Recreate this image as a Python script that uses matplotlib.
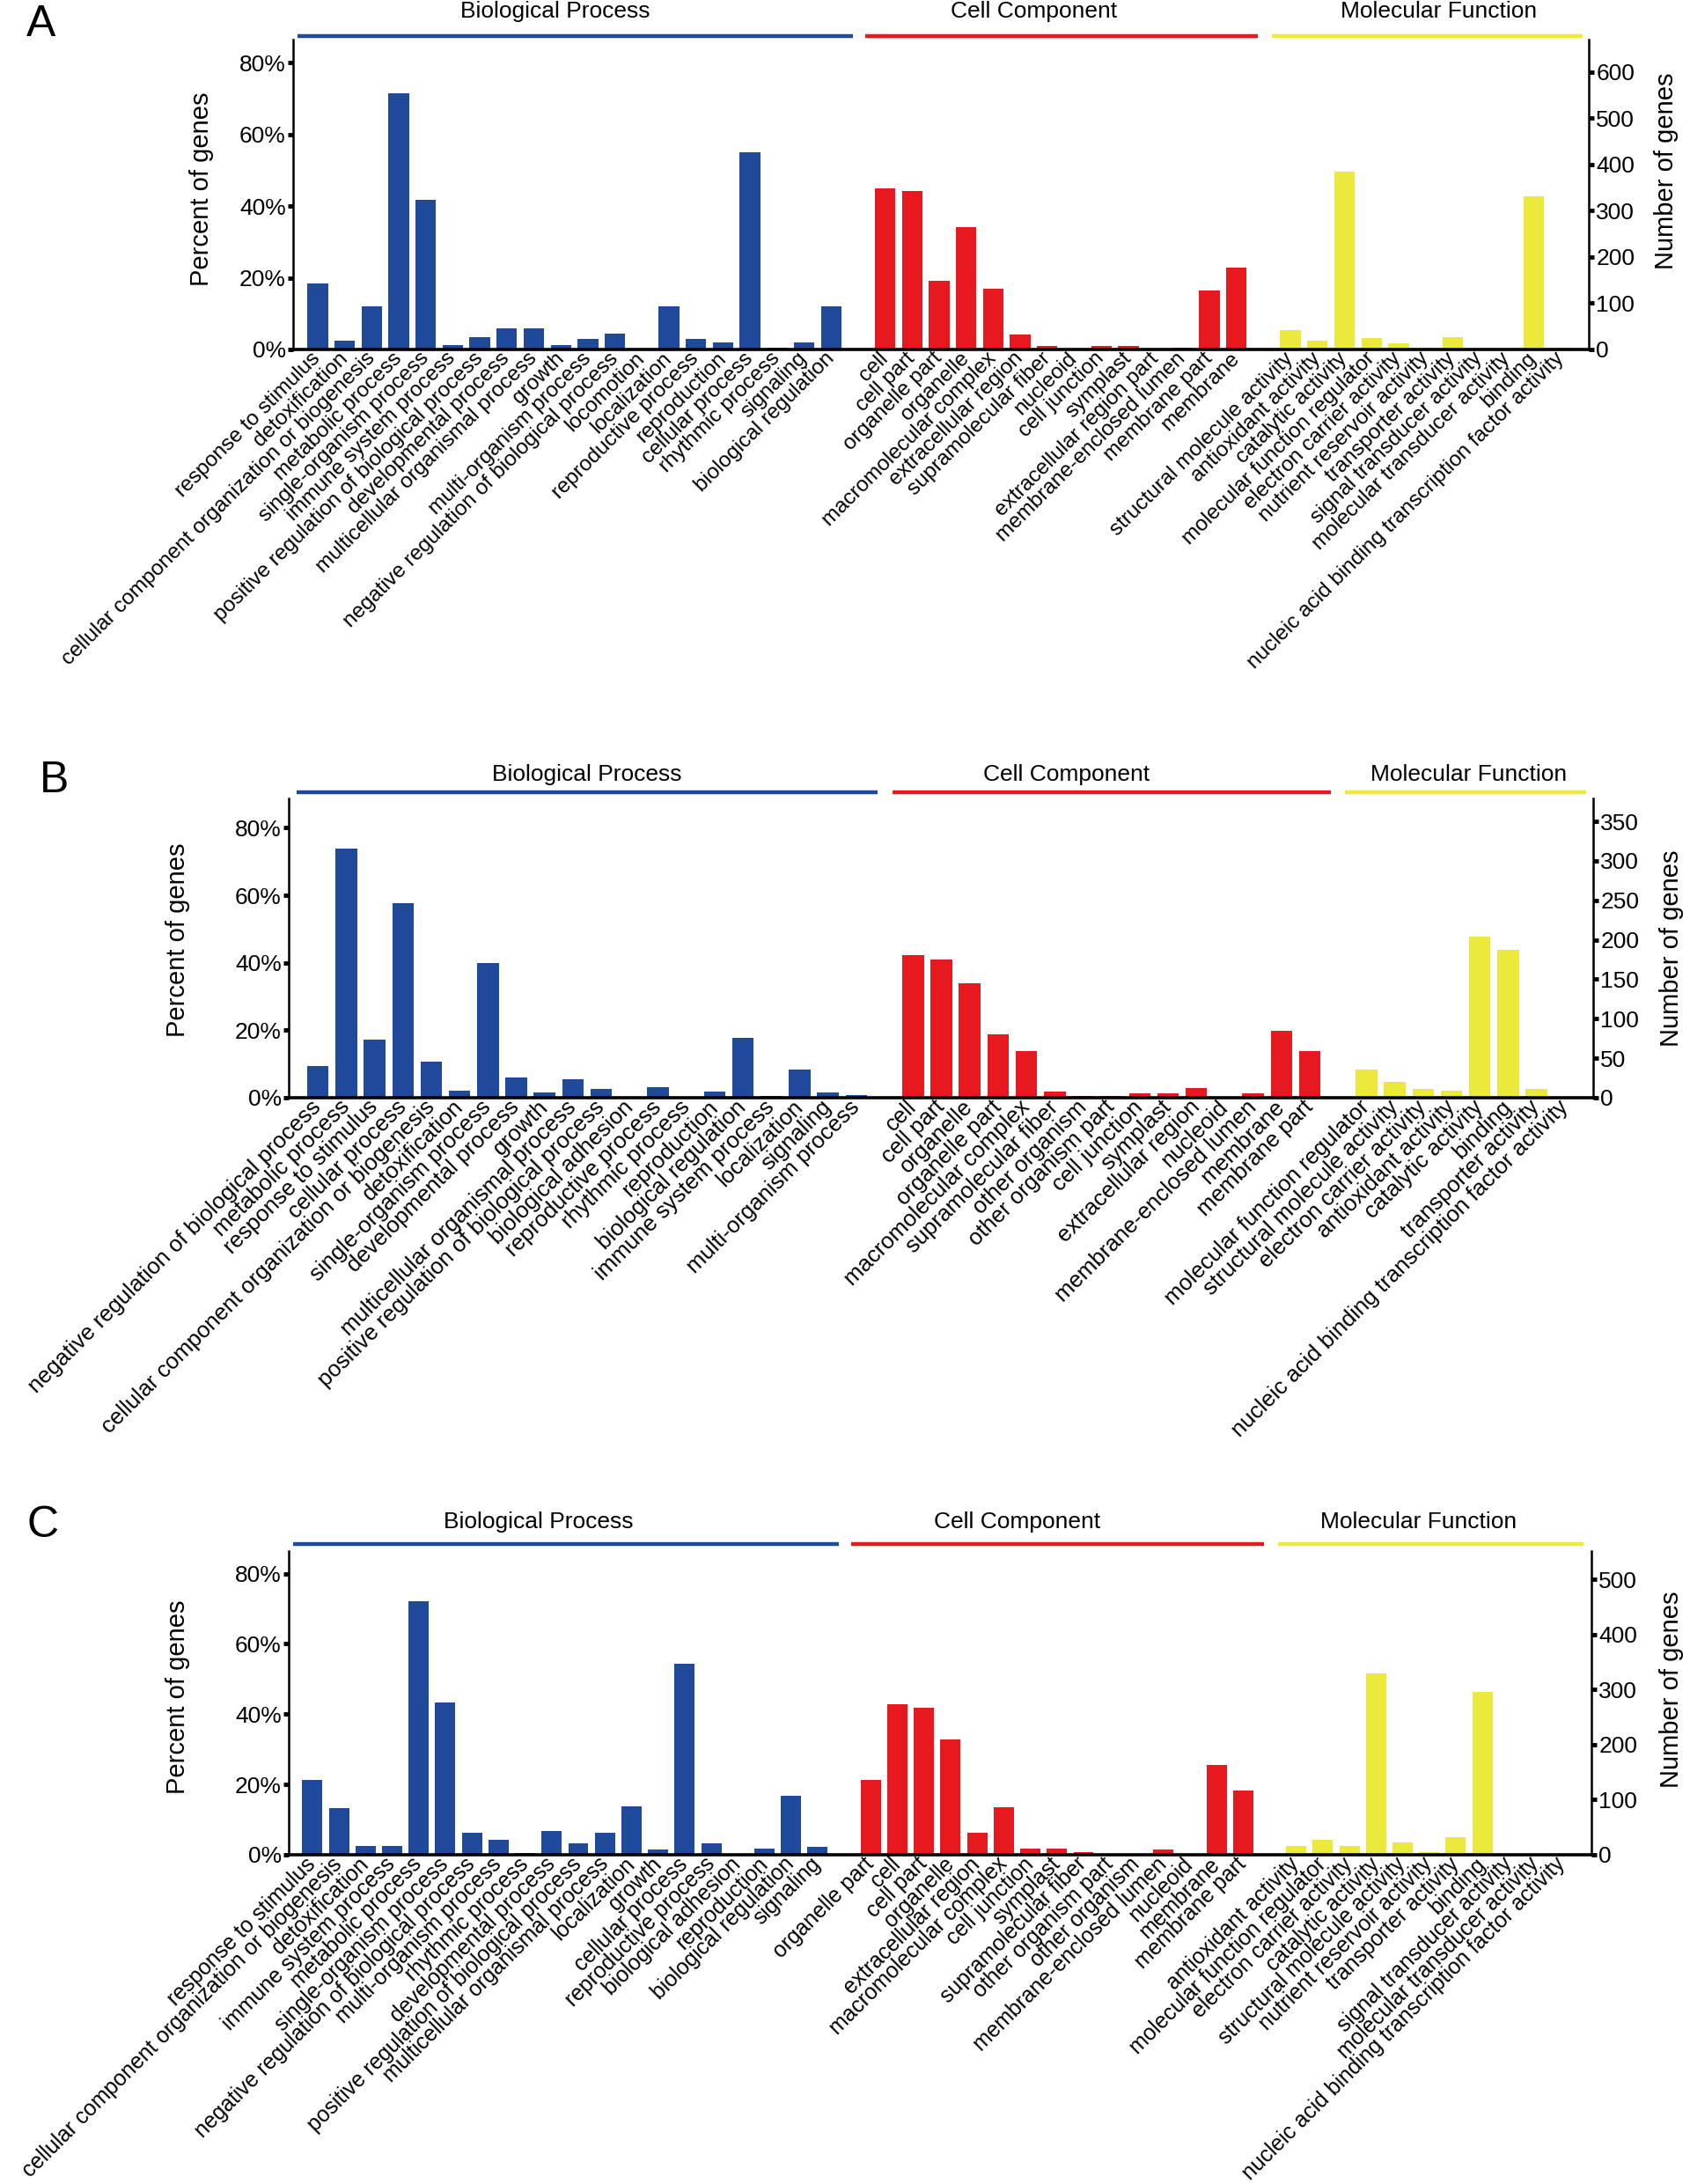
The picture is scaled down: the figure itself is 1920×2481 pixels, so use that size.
import matplotlib
matplotlib.use('Agg')
import matplotlib.pyplot as plt
import matplotlib.transforms as mtransforms

plt.rcParams['font.family'] = ['Liberation Sans', 'DejaVu Sans']

BLUE = '#1f4a9c'
RED = '#e5191e'
YELLOW = '#ebe93b'

# ---------------- panel A ----------------
a_bp_labels = ['response to stimulus', 'detoxification',
               'cellular component organization or biogenesis', 'metabolic process',
               'single-organism process', 'immune system process',
               'positive regulation of biological process', 'developmental process',
               'multicellular organismal process', 'growth', 'multi-organism process',
               'negative regulation of biological process', 'locomotion', 'localization',
               'reproductive process', 'reproduction', 'cellular process',
               'rhythmic process', 'signaling', 'biological regulation']
a_bp_values = [18.3, 2.4, 12.0, 71.5, 41.8, 1.3, 3.4, 5.8, 5.8, 1.3, 3.0, 4.5, 0,
               12.0, 3.0, 1.9, 54.9, 0.4, 2.0, 12.0]
a_cc_labels = ['cell', 'cell part', 'organelle part', 'organelle', 'macromolecular complex',
               'extracellular region', 'supramolecular fiber', 'nucleoid', 'cell junction',
               'symplast', 'extracellular region part', 'membrane-enclosed lumen',
               'membrane part', 'membrane']
a_cc_values = [45.0, 44.2, 19.2, 34.2, 17.0, 4.1, 1.0, 0, 1.1, 1.1, 0, 0.6, 16.5, 22.9]
a_mf_labels = ['structural molecule activity', 'antioxidant activity', 'catalytic activity',
               'molecular function regulator', 'electron carrier activity',
               'nutrient reservoir activity', 'transporter activity',
               'signal transducer activity', 'molecular transducer activity', 'binding',
               'nucleic acid binding transcription factor activity']
a_mf_values = [5.3, 2.4, 49.5, 3.3, 1.8, 0, 3.5, 0, 0, 42.6, 0.4]

# ---------------- panel B ----------------
b_bp_labels = ['negative regulation of biological process', 'metabolic process',
               'response to stimulus', 'cellular process',
               'cellular component organization or biogenesis', 'detoxification',
               'single-organism process', 'developmental process', 'growth',
               'multicellular organismal process', 'positive regulation of biological process',
               'biological adhesion', 'reproductive process', 'rhythmic process',
               'reproduction', 'biological regulation', 'immune system process',
               'localization', 'signaling', 'multi-organism process']
b_bp_values = [9.4, 73.8, 17.2, 57.7, 10.8, 2.1, 39.9, 5.9, 1.6, 5.4, 2.6, 0, 3.1, 0,
               1.9, 17.7, 0.5, 8.3, 1.6, 0.7]
b_cc_labels = ['cell', 'cell part', 'organelle', 'organelle part', 'macromolecular complex',
               'supramolecular fiber', 'other organism', 'other organism part',
               'cell junction', 'symplast', 'extracellular region', 'nucleoid',
               'membrane-enclosed lumen', 'membrane', 'membrane part']
b_cc_values = [42.2, 40.9, 34.0, 18.7, 13.7, 1.9, 0.6, 0.6, 1.4, 1.4, 2.9, 0, 1.4, 19.7, 13.8]
b_mf_labels = ['molecular function regulator', 'structural molecule activity',
               'electron carrier activity', 'antioxidant activity', 'catalytic activity',
               'binding', 'transporter activity',
               'nucleic acid binding transcription factor activity']
b_mf_values = [8.3, 4.6, 2.7, 2.2, 47.7, 43.7, 2.7, 0]

# ---------------- panel C ----------------
c_bp_labels = ['response to stimulus', 'cellular component organization or biogenesis',
               'detoxification', 'immune system process', 'metabolic process',
               'single-organism process', 'negative regulation of biological process',
               'multi-organism process', 'rhythmic process', 'developmental process',
               'positive regulation of biological process', 'multicellular organismal process',
               'localization', 'growth', 'cellular process', 'reproductive process',
               'biological adhesion', 'reproduction', 'biological regulation', 'signaling']
c_bp_values = [21.3, 13.3, 2.5, 2.4, 72.2, 43.4, 6.2, 4.3, 0.5, 6.7, 3.3, 6.3, 13.8, 1.4,
               54.4, 3.2, 0, 1.7, 16.7, 2.3]
c_cc_labels = ['organelle part', 'cell', 'cell part', 'organelle', 'extracellular region',
               'macromolecular complex', 'cell junction', 'symplast', 'supramolecular fiber',
               'other organism part', 'other organism', 'membrane-enclosed lumen', 'nucleoid',
               'membrane', 'membrane part']
c_cc_values = [21.2, 42.7, 41.9, 32.7, 6.3, 13.5, 1.7, 1.7, 0.75, 0, 0, 1.5, 0, 25.5, 18.2]
c_mf_labels = ['antioxidant activity', 'molecular function regulator',
               'electron carrier activity', 'catalytic activity',
               'structural molecule activity', 'nutrient reservoir activity',
               'transporter activity', 'binding', 'signal transducer activity',
               'molecular transducer activity',
               'nucleic acid binding transcription factor activity']
c_mf_values = [2.6, 4.3, 2.4, 51.5, 3.5, 0.7, 5.1, 46.3, 0, 0, 0]

groups = ['Biological Process', 'Cell Component', 'Molecular Function']

W, H = 1920, 2481
fig = plt.figure(figsize=(W / 100, H / 100), dpi=100)


def draw_panel(letter, bp, cc, mf, box, xlim, pct_top, gene_top, gene_step, line_x, title_x,
               line_y, title_y, letter_xy, ylab_l, ylab_r, xfs):
    left, right, top, bottom = box
    ax = fig.add_axes([left / W, 1 - bottom / H, (right - left) / W, (bottom - top) / H])
    labels = []
    n1 = len(bp[0])
    n2 = len(cc[0])
    pos = []
    for (lab, val), start, col in zip([bp, cc, mf], [0, n1 + 1, n1 + n2 + 2],
                                      [BLUE, RED, YELLOW]):
        x = [start + i for i in range(len(val))]
        ax.bar(x, val, width=0.76, color=col, zorder=2)
        pos += x
        labels += lab
    ax.set_xlim(*xlim)
    ax.set_ylim(0, pct_top)
    ax.set_xticks(pos)
    ax.set_xticklabels(labels, fontsize=xfs)
    plt.setp(ax.get_xticklabels(), rotation=45, ha='right', va='center', rotation_mode='anchor')
    ax.tick_params(axis='x', length=0, pad=5)
    ax.set_yticks([0, 20, 40, 60, 80])
    ax.set_yticklabels(['0%', '20%', '40%', '60%', '80%'])
    ax.tick_params(axis='y', direction='out', length=4, width=3.5, labelsize=19, pad=2)
    ax.spines['top'].set_visible(False)
    ax.spines['right'].set_visible(False)
    ax.spines['left'].set_linewidth(1.8)
    ax.spines['bottom'].set_linewidth(2.6)
    ax.set_ylabel('Percent of genes', fontsize=21)
    ax.yaxis.set_label_coords(*ylab_l)

    ax2 = ax.twinx()
    ax2.set_ylim(0, gene_top)
    ticks = list(range(0, int(gene_top) + 1, gene_step))
    ax2.set_yticks(ticks)
    ax2.tick_params(axis='y', direction='out', length=4, width=3.5, labelsize=19, pad=2)
    for s in ['top', 'left', 'bottom']:
        ax2.spines[s].set_visible(False)
    ax2.spines['right'].set_linewidth(1.8)
    ax2.set_ylabel('Number of genes', fontsize=21, rotation=90)
    ax2.yaxis.set_label_coords(*ylab_r)

    trans = mtransforms.blended_transform_factory(ax.transData, ax.transAxes)
    for (x0, x1), tx, col, name in zip(line_x, title_x, [BLUE, RED, YELLOW], groups):
        ax.plot([x0, x1], [line_y, line_y], color=col, lw=3.2, transform=trans,
                clip_on=False, solid_capstyle='butt')
        ax.text(tx, title_y, name, transform=trans, ha='center', va='center', fontsize=19)

    fig.text(letter_xy[0] / W, 1 - letter_xy[1] / H, letter, fontsize=36,
             ha='center', va='center')


draw_panel('A', (a_bp_labels, a_bp_values), (a_cc_labels, a_cc_values),
           (a_mf_labels, a_mf_values),
           box=(333, 1805, 45, 397), xlim=(-0.91, 47.04), pct_top=86.4, gene_top=670,
           gene_step=100,
           line_x=[(-0.76, 19.8), (20.25, 34.8), (35.3, 46.8)], title_x=[8.8, 26.5, 41.5],
           line_y=1.012, title_y=1.091, letter_xy=(47, 28),
           ylab_l=(-0.0611, 0.517), ylab_r=(1.050, 0.577), xfs=17.5)

draw_panel('B', (b_bp_labels, b_bp_values), (b_cc_labels, b_cc_values),
           (b_mf_labels, b_mf_values),
           box=(328, 1810, 907, 1247), xlim=(-1.03, 45.0), pct_top=88.7, gene_top=379,
           gene_step=50,
           line_x=[(-0.74, 19.74), (20.27, 35.75), (36.24, 44.75)], title_x=[9.5, 26.4, 40.6],
           line_y=1.02, title_y=1.079, letter_xy=(62, 887),
           ylab_l=(-0.0756, 0.528), ylab_r=(1.0506, 0.5), xfs=18.5)

draw_panel('C', (c_bp_labels, c_bp_values), (c_cc_labels, c_cc_values),
           (c_mf_labels, c_mf_values),
           box=(328, 1808, 1762, 2107), xlim=(-0.89, 48.1), pct_top=86.4, gene_top=551.5,
           gene_step=100,
           line_x=[(-0.73, 19.8), (20.26, 35.8), (36.3, 47.8)], title_x=[8.5, 26.5, 41.6],
           line_y=1.022, title_y=1.095, letter_xy=(49, 1733),
           ylab_l=(-0.0757, 0.52), ylab_r=(1.052, 0.545), xfs=17.8)

fig.savefig('out.png', dpi=100, facecolor='white')
